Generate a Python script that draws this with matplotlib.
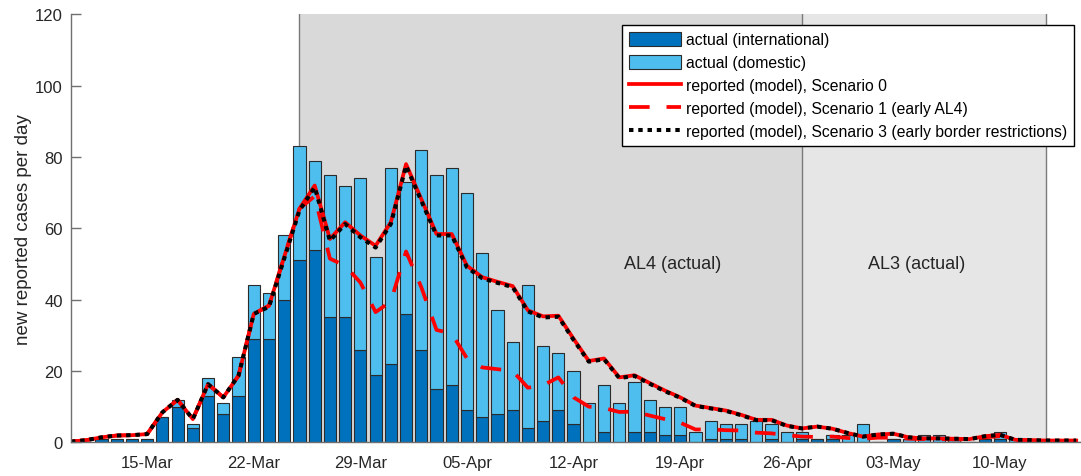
import numpy as np
import pandas as pd
import matplotlib
matplotlib.use('Agg')
import matplotlib.pyplot as plt
import matplotlib.dates as mdates
from matplotlib.patches import Patch
from matplotlib.lines import Line2D

plt.rcParams['font.family'] = ['Liberation Sans', 'DejaVu Sans']

# ---------------- data ----------------
start_date = '2020-03-10'
n_days = 67
intl = [0, 0, 1, 1, 1, 1, 7, 10, 4, 13, 8, 13, 29, 29, 40, 51, 54, 35, 35, 26,
        19, 22, 36, 26, 15, 16, 9, 7, 8, 9, 4, 6, 9, 5, 0, 3, 0, 3, 3, 2,
        2, 0, 1, 1, 1, 0, 1, 0, 1, 1, 1, 0, 0, 0, 1, 0, 0, 0, 0, 0,
        1, 1, 0, 0, 0, 0, 0]
domestic = [0, 0, 0, 0, 0, 0, 0, 2, 1, 5, 3, 11, 15, 13, 18, 32, 25, 40, 37, 48,
            33, 55, 37, 56, 60, 61, 61, 46, 29, 19, 40, 21, 16, 15, 11, 13, 11, 14, 9, 8,
            8, 3, 5, 4, 4, 6, 4, 3, 2, 0, 1, 2, 5, 0, 0, 1, 2, 2, 1, 0,
            0, 2, 1, 0, 0, 0, 0]
scen0 = [0.2, 0.6, 1.4, 1.9, 2.0, 2.3, 8.4, 11.9, 6.5, 16.3, 12.6, 18.7, 36.0, 38.3, 52.0,
         65.5, 72.0, 57.0, 61.7, 58.0, 55.1, 61.7, 78.0, 68.2, 58.4, 58.4, 49.5, 46.3, 45.0,
         43.8, 37.0, 35.3, 35.5, 29.0, 22.8, 23.5, 18.2, 18.8, 16.6, 14.5, 12.6, 10.3, 9.6,
         8.9, 7.7, 6.3, 6.3, 4.7, 3.9, 4.4, 3.8, 2.6, 1.6, 2.2, 2.4, 1.4, 1.1, 1.1, 1.0,
         0.9, 1.7, 2.1, 0.7, 0.6, 0.5, 0.5, 0.5]
scen1 = [0.2, 0.6, 1.4, 1.9, 2.0, 2.3, 8.4, 11.9, 6.5, 16.3, 12.6, 18.7, 36.0, 38.3, 52.0,
         65.5, 69.0, 51.5, 49.5, 44.8, 36.5, 39.5, 53.5, 43.5, 31.5, 30.5, 23.5, 21.0, 20.5,
         20.0, 15.3, 16.0, 18.2, 12.6, 10.0, 9.6, 8.5, 8.6, 7.5, 6.5, 5.5, 3.6, 3.6,
         3.4, 3.3, 2.7, 2.5, 2.0, 1.6, 1.5, 1.6, 1.2, 1.0, 1.3, 1.3, 1.0, 0.9, 0.9, 0.8,
         0.8, 1.4, 1.7, 0.6, 0.5, 0.4, 0.4, 0.4]
scen3 = [0.2, 0.6, 1.4, 1.9, 2.0, 2.3, 8.4, 11.9, 6.5, 16.3, 12.6, 18.7, 36.0, 38.0, 51.5,
         65.0, 71.5, 56.5, 61.2, 57.5, 54.6, 61.2, 77.5, 67.7, 58.0, 58.0, 49.0, 46.0, 44.7,
         43.5, 36.7, 35.0, 35.2, 28.7, 22.6, 23.3, 18.0, 18.6, 16.4, 14.3, 12.5, 10.2, 9.5,
         8.8, 7.6, 6.2, 6.2, 4.6, 3.9, 4.4, 3.8, 2.6, 1.6, 2.2, 2.4, 1.4, 1.1, 1.1, 1.0,
         0.9, 1.7, 2.1, 0.7, 0.6, 0.5, 0.5, 0.5]
al4_start, al3_start, al3_end = '2020-03-25', '2020-04-27', '2020-05-13'
tick_dates = ['2020-03-15', '2020-03-22', '2020-03-29', '2020-04-05', '2020-04-12',
              '2020-04-19', '2020-04-26', '2020-05-03', '2020-05-10']
labels = ['actual (international)', 'actual (domestic)',
          'reported (model), Scenario 0',
          'reported (model), Scenario 1 (early AL4)',
          'reported (model), Scenario 3 (early border restrictions)']

# ---------------- plot ----------------
dates = pd.date_range(start_date, periods=n_days)
x = mdates.date2num(dates)
intl_a = np.array(intl, float)
dom_a = np.array(domestic, float)

W, H = 1081, 477
fig = plt.figure(figsize=(W / 100, H / 100), dpi=100)
ax_l, ax_b, ax_t = 71, 443.3, 15.3
ax = fig.add_axes([ax_l / W, 1 - ax_b / H, 1 - ax_l / W, (ax_b - ax_t) / H])

px_per_day = 15.23
x0 = x[0]
ax.set_xlim(x0, x0 + (W - ax_l) / px_per_day)
ax.set_ylim(0, 120)

t4 = mdates.date2num(pd.Timestamp(al4_start))
t3 = mdates.date2num(pd.Timestamp(al3_start))
t2 = mdates.date2num(pd.Timestamp(al3_end))
ax.axvspan(t4, t3, color='#d9d9d9', lw=0, zorder=0)
ax.axvspan(t3, t2, color='#e6e6e6', lw=0, zorder=0)
for t in (t4, t3, t2):
    ax.axvline(t, color='#7a7a7a', lw=1.0, zorder=0.5)

ax.text(t4 + 24.5, 50, 'AL4 (actual)', ha='center', va='center', fontsize=13, color='#262626')
ax.text(t3 + 7.5, 50, 'AL3 (actual)', ha='center', va='center', fontsize=13, color='#262626')

c_int = '#0072BD'
c_dom = '#4DBEEE'
ax.bar(x, intl_a, width=0.8, color=c_int, edgecolor='#2b2b2b', linewidth=0.8, zorder=2)
ax.bar(x, dom_a, width=0.8, bottom=intl_a, color=c_dom, edgecolor='#2b2b2b', linewidth=0.8, zorder=2)

ax.plot(x, scen0, color='red', lw=2.7, zorder=3, solid_joinstyle='round')
ax.plot(x, scen1, color='red', lw=2.7, dashes=(5.5, 4.5), zorder=4)
ax.plot(x, scen3, color='black', lw=2.9, dashes=(1.1, 1.2), zorder=5)

ax.set_xticks(mdates.date2num(pd.to_datetime(tick_dates)))
ax.xaxis.set_major_formatter(mdates.DateFormatter('%d-%b'))
ax.set_yticks(np.arange(0, 121, 20))
ax.tick_params(axis='x', length=0, pad=9, labelsize=12, labelcolor='#262626')
ax.tick_params(axis='y', direction='in', length=7, width=1, color='#707070',
               pad=6, labelsize=12, labelcolor='#262626')
for s in ('top', 'right'):
    ax.spines[s].set_visible(False)
for s in ('left', 'bottom'):
    ax.spines[s].set_color('#707070')
    ax.spines[s].set_linewidth(1.0)
    ax.spines[s].set_zorder(6)

ax.set_ylabel('new reported cases per day', fontsize=13.5, color='#262626', labelpad=2)

handles = [Patch(facecolor=c_int, edgecolor='#2b2b2b', lw=0.8),
           Patch(facecolor=c_dom, edgecolor='#2b2b2b', lw=0.8),
           Line2D([], [], color='red', lw=2.7),
           Line2D([], [], color='red', lw=2.7, dashes=(5.5, 4.5)),
           Line2D([], [], color='black', lw=2.9, dashes=(1.1, 1.2))]
leg = ax.legend(handles, labels, loc='upper right',
                bbox_to_anchor=(1074 / W, 1 - 26 / H), bbox_transform=fig.transFigure,
                fontsize=11.3, frameon=True, fancybox=False, framealpha=1,
                edgecolor='black', handlelength=3.3, handleheight=1.0,
                handletextpad=0.3, labelspacing=0.48, borderpad=0.45,
                borderaxespad=0)
leg.get_frame().set_linewidth(1.0)
leg.set_zorder(10)

fig.savefig('out.png', dpi=100)
